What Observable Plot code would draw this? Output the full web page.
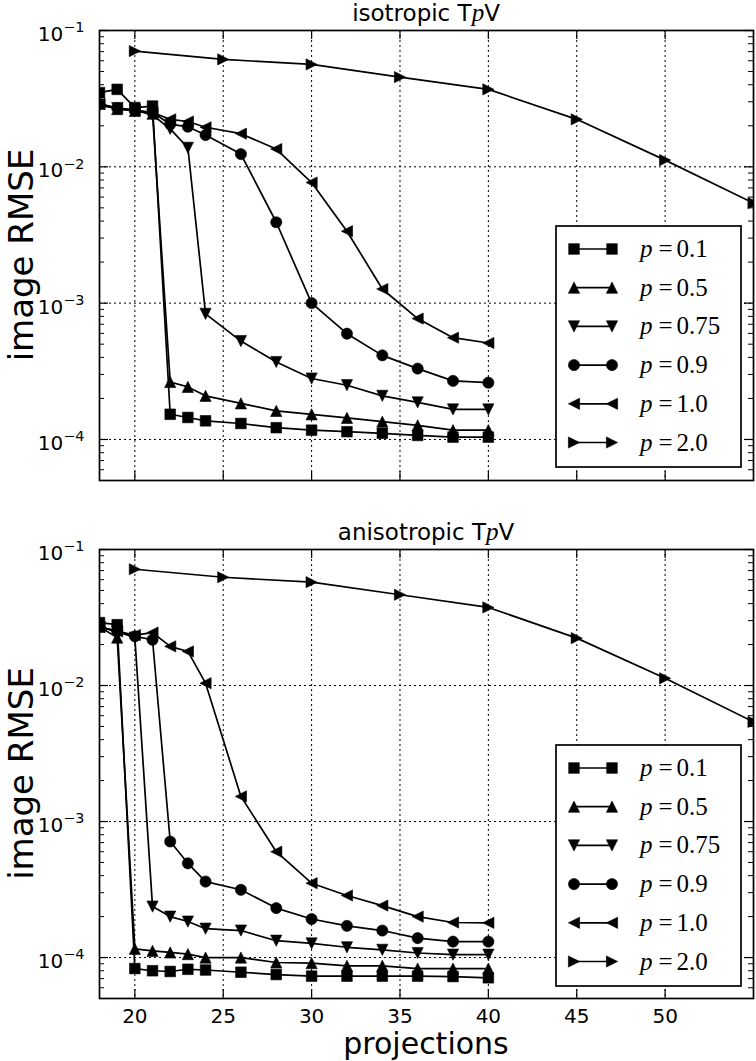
<!DOCTYPE html>
<html><head><meta charset="utf-8">
<script src="https://cdn.jsdelivr.net/npm/d3@7"></script>
<script src="https://cdn.jsdelivr.net/npm/@observablehq/plot@0.6"></script>
<style>
body{margin:0;background:#fff;}
#chart{position:relative;width:756px;height:1061px;background:#fff;}
#chart svg{position:absolute;left:0;overflow:visible;}
</style></head><body><div id="chart"></div>
<script>
// ---------- data ----------
const projections = [18,19,20,21,22,23,24,26,28,30,32,34,36,38,40];
const projectionsP2 = [20,25,30,35,40,45,50,55];
const pLabels = ["0.1","0.5","0.75","0.9","1.0","2.0"];

const isoP01  = [0.035,0.037,0.0272,0.0279,1.53e-4,1.45e-4,1.37e-4,1.31e-4,1.22e-4,1.17e-4,1.14e-4,1.11e-4,1.07e-4,1.04e-4,1.04e-4];
const isoP05  = [0.029,0.0265,0.0257,0.0245,2.64e-4,2.43e-4,2.09e-4,1.84e-4,1.62e-4,1.53e-4,1.44e-4,1.35e-4,1.27e-4,1.17e-4,1.17e-4];
const isoP075 = [0.028,0.027,0.026,0.024,0.019,0.0138,8.35e-4,5.27e-4,3.7e-4,2.8e-4,2.5e-4,2.09e-4,1.87e-4,1.66e-4,1.66e-4];
const isoP09  = [0.029,0.027,0.026,0.025,0.0205,0.0197,0.0171,0.0124,3.92e-3,1.0e-3,5.97e-4,4.14e-4,3.31e-4,2.69e-4,2.61e-4];
const isoP10  = [0.029,0.027,0.026,0.025,0.0223,0.0215,0.0195,0.0175,0.0135,7.67e-3,3.37e-3,1.27e-3,7.7e-4,5.58e-4,5.1e-4];
const isoP20  = [0.0706,0.0614,0.0564,0.0455,0.037,0.0223,0.0112,0.00542];

const anisoP01  = [0.029,0.028,8.3e-5,8.0e-5,7.9e-5,8.2e-5,8.1e-5,7.8e-5,7.5e-5,7.3e-5,7.3e-5,7.3e-5,7.3e-5,7.25e-5,7.1e-5];
const anisoP05  = [0.027,0.0225,1.16e-4,1.12e-4,1.09e-4,1.06e-4,1.0e-4,1.0e-4,9.2e-5,9.1e-5,8.7e-5,8.7e-5,8.3e-5,8.3e-5,8.3e-5];
const anisoP075 = [0.027,0.025,0.0225,2.37e-4,2.0e-4,1.84e-4,1.63e-4,1.58e-4,1.33e-4,1.27e-4,1.19e-4,1.14e-4,1.08e-4,1.05e-4,1.05e-4];
const anisoP09  = [0.027,0.025,0.023,0.0217,7.13e-4,4.93e-4,3.62e-4,3.15e-4,2.31e-4,1.92e-4,1.71e-4,1.58e-4,1.39e-4,1.31e-4,1.31e-4];
const anisoP10  = [0.027,0.025,0.0235,0.0245,0.0194,0.0178,0.0104,1.53e-3,6.0e-4,3.52e-4,2.86e-4,2.41e-4,2.0e-4,1.81e-4,1.8e-4];
const anisoP20  = [0.0716,0.0625,0.0575,0.0465,0.0375,0.0223,0.0113,0.0054];

const xTickValues = [20,25,30,35,40,45,50];
const yTickValues = [1e-4,1e-3,1e-2,1e-1];
const yMinorTicks = [];
for (const e of [-5,-4,-3,-2]) for (let m = 2; m <= 9; m++) { const v = m * Math.pow(10, e); if (v >= 5e-5 && v < 0.1) yMinorTicks.push(v); }

// ---------- symbols (matplotlib-like markers) ----------
const R = s => Math.sqrt(s / Math.PI);
const symSquare = {draw(c, s){const r = R(s)*0.95; c.rect(-r,-r,2*r,2*r);}};
const symCircle = {draw(c, s){const r = R(s); c.moveTo(r,0); c.arc(0,0,r,0,2*Math.PI);}};
const symUp    = {draw(c, s){const r = R(s); c.moveTo(0,-r); c.lineTo(r,r); c.lineTo(-r,r); c.closePath();}};
const symDown  = {draw(c, s){const r = R(s); c.moveTo(0,r); c.lineTo(r,-r); c.lineTo(-r,-r); c.closePath();}};
const symLeft  = {draw(c, s){const r = R(s); c.moveTo(-r,0); c.lineTo(r,-r); c.lineTo(r,r); c.closePath();}};
const symRight = {draw(c, s){const r = R(s); c.moveTo(r,0); c.lineTo(-r,-r); c.lineTo(-r,r); c.closePath();}};
const symbols = [symSquare, symUp, symDown, symCircle, symLeft, symRight];

const W = 756, ML = 99, MR = 3;
const FW = W - ML - MR;

function panel({top, height, mt, mb, title, ys, showX}) {
  const FH = height - mt - mb;
  const marks = [];
  const grid = {stroke:"#000", strokeWidth:1, strokeDasharray:"2,3"};
  marks.push(Plot.ruleX(xTickValues, {x: d => d, ...grid}));
  marks.push(Plot.ruleY(yTickValues.filter(v => v < 0.1), {y: d => d, ...grid}));
  // inward ticks
  marks.push(Plot.tickY(yTickValues, {y: d => d, insetRight: FW - 9, stroke:"#000", strokeWidth:1.2}));
  marks.push(Plot.tickY(yTickValues, {y: d => d, insetLeft: FW - 9, stroke:"#000", strokeWidth:1.2}));
  marks.push(Plot.tickY(yMinorTicks, {y: d => d, insetRight: FW - 5, stroke:"#000", strokeWidth:1}));
  marks.push(Plot.tickY(yMinorTicks, {y: d => d, insetLeft: FW - 5, stroke:"#000", strokeWidth:1}));
  marks.push(Plot.tickX(xTickValues, {x: d => d, insetTop: FH - 9, stroke:"#000", strokeWidth:1.2}));
  marks.push(Plot.tickX(xTickValues, {x: d => d, insetBottom: FH - 9, stroke:"#000", strokeWidth:1.2}));
  ys.forEach((y, k) => {
    const xs = k === 5 ? projectionsP2 : projections;
    const data = xs.map((x, i) => ({x, y: y[i]}));
    marks.push(Plot.line(data, {x:"x", y:"y", stroke:"#000", strokeWidth:1.7, clip:true}));
    marks.push(Plot.dot(data, {x:"x", y:"y", symbol: symbols[k], r: 5.6, fill:"#000", stroke:"#000", strokeWidth:0.6, clip:true}));
  });
  marks.push(Plot.frame({stroke:"#000", strokeWidth:1.7}));
  marks.push(Plot.axisY(yTickValues, {label: null, tickSize:0, tickPadding:15, fontSize:20, tickFormat: d => "10^" + Math.round(Math.log10(d))}));
  if (showX) marks.push(Plot.axisX(xTickValues, {label: null, tickSize:0, tickPadding:10, fontSize:20}));

  const svg = Plot.plot({
    width: W, height, marginLeft: ML, marginRight: MR, marginTop: mt, marginBottom: mb,
    style: {fontFamily: "DejaVu Sans", color: "#000", background: "transparent", overflow: "visible"},
    x: {type: "linear", domain: [18, 55], label: null, axis: showX ? undefined : null},
    y: {type: "log", domain: [5e-5, 0.1], label: null},
    marks
  });
  svg.style.top = top + "px";
  const s = d3.select(svg);
  // superscript exponents on y tick labels
  s.selectAll('g[aria-label="y-axis tick label"] text').each(function() {
    const t = d3.select(this);
    const [b, e] = t.text().split("^");
    t.text(null);
    t.append("tspan").attr("dy", "0.2em").text(b);
    t.append("tspan").attr("dy", "-0.6em").attr("font-size", "0.72em").text(e.replace("-", "\u2212"));
  });
  // title
  const tt = s.append("text").attr("x", ML + FW/2).attr("y", mt - 9).attr("text-anchor", "middle")
    .attr("font-family", "DejaVu Sans").attr("font-size", 23).attr("fill", "#000");
  tt.append("tspan").text(title + " T");
  tt.append("tspan").attr("font-family", "Liberation Serif").attr("font-style", "italic").attr("font-size", 25).text("p");
  tt.append("tspan").text("V");
  // y label
  s.append("text").attr("transform", `translate(33,${mt + FH/2}) rotate(-90)`).attr("text-anchor", "middle")
    .attr("font-family", "DejaVu Sans").attr("font-size", 34).attr("fill", "#000").text("image RMSE");
  // legend
  const lg = s.append("g").attr("transform", `translate(556,${mt + 196})`);
  lg.append("rect").attr("width", 185).attr("height", 241).attr("fill", "#fff").attr("stroke", "#000").attr("stroke-width", 1.7);
  pLabels.forEach((lab, i) => {
    const cy = 23 + i * 38.7;
    lg.append("line").attr("x1", 18).attr("x2", 56).attr("y1", cy).attr("y2", cy).attr("stroke", "#000").attr("stroke-width", 1.7);
    const sym = d3.symbol(symbols[i], Math.PI * 5.6 * 5.6)();
    [18, 56].forEach(x => lg.append("path").attr("d", sym).attr("transform", `translate(${x},${cy})`)
      .attr("fill", "#000").attr("stroke", "#000").attr("stroke-width", 0.6));
    const tx = lg.append("text").attr("x", 84).attr("y", cy + 8).attr("text-anchor", "start")
      .attr("font-family", "Liberation Serif").attr("font-size", 25).attr("fill", "#000");
    tx.append("tspan").attr("font-style", "italic").text("p");
    tx.append("tspan").attr("dx", 6).text("=");
    tx.append("tspan").attr("dx", 4).text(lab);
  });
  if (showX) {
    s.append("text").attr("x", ML + FW/2).attr("y", height - 7).attr("text-anchor", "middle")
      .attr("font-family", "DejaVu Sans").attr("font-size", 30).attr("fill", "#000").text("projections");
  }
  return svg;
}

const chart = document.getElementById("chart");
chart.appendChild(panel({top: 0, height: 500, mt: 30, mb: 20, title: "isotropic",
  ys: [isoP01, isoP05, isoP075, isoP09, isoP10, isoP20], showX: false}));
chart.appendChild(panel({top: 500, height: 561, mt: 49, mb: 63, title: "anisotropic",
  ys: [anisoP01, anisoP05, anisoP075, anisoP09, anisoP10, anisoP20], showX: true}));
</script></body></html>
